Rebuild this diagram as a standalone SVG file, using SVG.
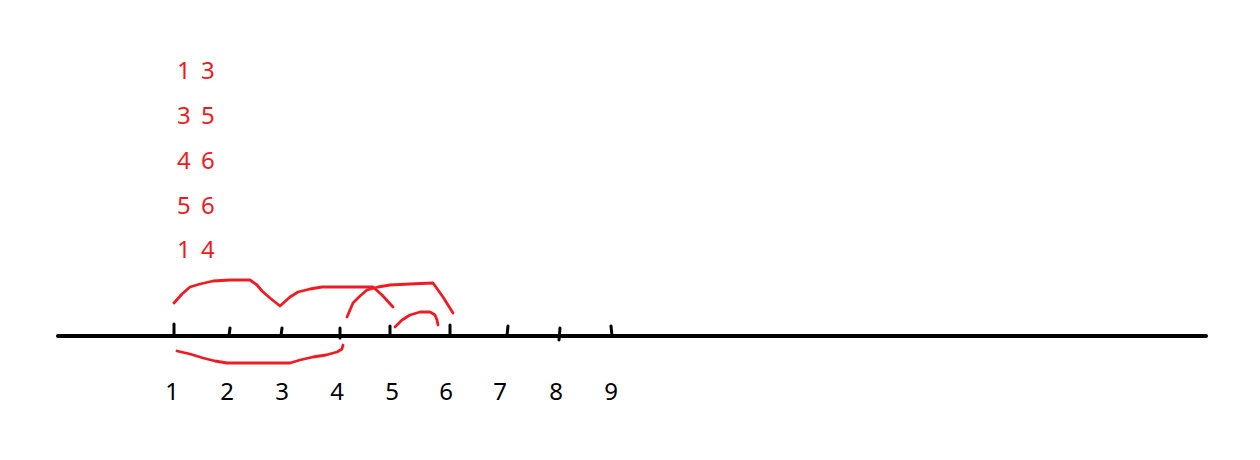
<svg xmlns="http://www.w3.org/2000/svg" width="1260" height="460" viewBox="0 0 1260 460">
<style>
.axis{stroke:#000;stroke-width:4;stroke-linecap:round;fill:none}
.tick{stroke:#000;stroke-width:3;stroke-linecap:round;fill:none}
.arc{stroke:#ed1c24;stroke-width:2.8;stroke-linecap:round;stroke-linejoin:round;fill:none}
.red{fill:#ed1c24;font-family:"Noto Sans","Open Sans",sans-serif;font-size:24px;word-spacing:4px}
.num{fill:#000;font-family:"Noto Sans","Open Sans",sans-serif;font-size:24px;text-anchor:middle}
</style>
<rect width="1260" height="460" fill="#fff"/>
<g id="pairs">
<text class="red" x="177" y="79">1 3</text>
<text class="red" x="177" y="124">3 5</text>
<text class="red" x="177" y="169">4 6</text>
<text class="red" x="177" y="214">5 6</text>
<text class="red" x="177" y="258">1 4</text>
</g>
<g id="axis">
<path class="axis" d="M58 336 L1206 336"/>
<path class="tick" d="M174 324 L174 336 M230 328 L229 336 M282 328 L281 336 M340 328 L340 338 M390 326 L390 336 M450 325 L450 336 M508 326 L507 336 M560 328 L559 340 M611 326 L612 336"/>
</g>
<g id="connectors">
<path class="arc" d="M174 303 L182 294 L190 287 L200 284 L213 281 L230 280 L250 280 L257 285 L262 291 L270 298 L280 306 L290 297 L298 292 L310 289 L322 287 L345 287 L373 287 L382 295 L393 307"/>
<path class="arc" d="M347 317 L353 303 L360 296 L367 290 L378 287 L390 285 L410 284 L433 283 L438 290 L443 297 L448 305 L453 313"/>
<path class="arc" d="M395 327 L402 320 L410 315 L420 312 L430 312 L435 315 L437 320 L438 325"/>
<path class="arc" d="M177 351 L190 354 L203 358 L215 361 L227 363 L260 363 L290 363 L300 360 L313 357 L326 355 L337 352 L342 349 L343 345"/>
</g>
<g id="labels">
<text class="num" x="172" y="400">1</text>
<text class="num" x="227" y="400">2</text>
<text class="num" x="282" y="400">3</text>
<text class="num" x="337" y="400">4</text>
<text class="num" x="392" y="400">5</text>
<text class="num" x="446" y="400">6</text>
<text class="num" x="500" y="400">7</text>
<text class="num" x="556" y="400">8</text>
<text class="num" x="611" y="400">9</text>
</g>
</svg>
